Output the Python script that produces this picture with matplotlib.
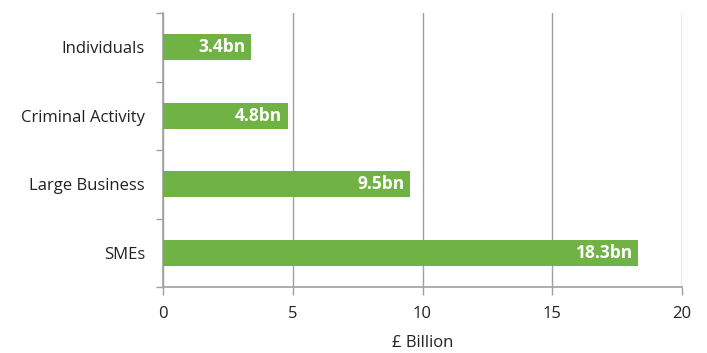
import matplotlib
matplotlib.use("Agg")
import matplotlib.pyplot as plt
from matplotlib.ticker import FixedLocator

categories = ["Individuals", "Criminal Activity", "Large Business", "SMEs"]
values = [3.4, 4.8, 9.5, 18.3]
labels = ["3.4bn", "4.8bn", "9.5bn", "18.3bn"]
xticks = [0, 5, 10, 15, 20]

green = "#70B244"
grey = "#A0A0A4"
txt = "#222222"

plt.rcParams["font.family"] = ["Open Sans", "DejaVu Sans"]

fig = plt.figure(figsize=(7.07, 3.53), dpi=100)
ax = fig.add_axes([163/707, 1-287/353, (682-163)/707, (287-13)/353])

ypos = list(range(len(categories)))
ax.barh(ypos, values, height=0.38, color=green, zorder=3)
for y, v, lab in zip(ypos, values, labels):
    ax.text(v - 0.2, y, lab, ha="right", va="center", color="white",
            fontsize=12.5, fontweight="bold", zorder=4)

ax.set_xlim(0, 20)
ax.set_ylim(len(categories) - 0.5, -0.5)
ax.set_xticks(xticks)
ax.set_xticklabels([str(t) for t in xticks], fontsize=12, color=txt)
ax.set_yticks(ypos)
ax.set_yticklabels(categories, fontsize=12, color=txt)
ax.yaxis.set_minor_locator(FixedLocator([i - 0.5 for i in range(len(categories) + 1)]))
ax.tick_params(axis="y", which="major", length=0, pad=13)
ax.tick_params(axis="y", which="minor", length=5, color=grey, width=1)
ax.tick_params(axis="x", length=6, color=grey, width=1, pad=8)

ax.grid(axis="x", color=grey, linewidth=1, zorder=0)
for s in ["top", "right"]:
    ax.spines[s].set_visible(False)
for s in ["left", "bottom"]:
    ax.spines[s].set_color(grey)
    ax.spines[s].set_linewidth(1.2)

ax.set_xlabel("£ Billion", fontsize=12, color=txt, labelpad=9)

fig.savefig("out.png", dpi=100)
